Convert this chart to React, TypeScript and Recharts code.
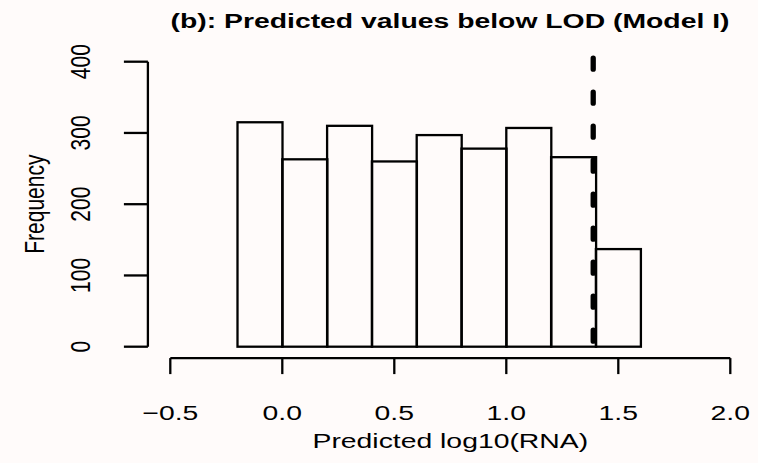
import React from 'react';
import { ComposedChart, Bar, XAxis, YAxis, ReferenceLine, Label } from 'recharts';

// histogram bins (left edges) and their counts
const binStarts = [-0.2, 0.0, 0.2, 0.4, 0.6, 0.8, 1.0, 1.2, 1.4];
const binWidth = 0.2;
const counts = [315, 263, 310, 260, 297, 278, 307, 266, 137];
const xTicks = [-0.5, 0.0, 0.5, 1.0, 1.5, 2.0];
const yTicks = [0, 100, 200, 300, 400];
const lod = 1.388;
const lodTop = 405;

const data = binStarts.map((s, i) => ({ mid: s + binWidth / 2, count: counts[i] }));

const FONT = '"Liberation Sans", Arial, Helvetica, sans-serif';
const STRETCH = 1.35;
const FS = 21;

const fmt = (v: number) => v.toFixed(1).replace('-', '\u2212');

const XTick = (props: any) => {
  const { x, payload } = props;
  return (
    <text
      transform={`translate(${x},412) scale(${STRETCH},1)`}
      textAnchor="middle"
      dominantBaseline="central"
      fontSize={FS}
      fontFamily={FONT}
      fill="#000"
    >
      {fmt(payload.value)}
    </text>
  );
};

const YTick = (props: any) => {
  const { y, payload } = props;
  return (
    <text
      transform={`translate(80,${y}) scale(${STRETCH},1) rotate(-90)`}
      textAnchor="middle"
      dominantBaseline="central"
      fontSize={FS}
      fontFamily={FONT}
      fill="#000"
    >
      {payload.value}
    </text>
  );
};

const HistBar = (props: any) => {
  const { x, y, width, height } = props;
  return <rect x={x} y={y} width={width} height={height} fill="none" stroke="#000" strokeWidth={2.3} />;
};

export default function App() {
  return (
    <div style={{ position: 'absolute', left: 0, top: 0, width: 758, height: 463, background: '#fffbfa' }}>
      <ComposedChart
        width={758}
        height={463}
        data={data}
        barCategoryGap={0}
        barGap={0}
        margin={{ top: 50.3, right: 5.3, left: 47.9, bottom: 44.9 }}
      >
        <XAxis
          dataKey="mid"
          type="number"
          domain={[-0.6, 2.1]}
          allowDataOverflow
          ticks={xTicks}
          interval={0}
          height={60}
          axisLine={false}
          tickSize={16}
          tickLine={{ stroke: '#000', strokeWidth: 2.3 }}
          tick={<XTick />}
        >
          <Label
            content={(p: any) => (
              <text
                transform={`translate(${p.viewBox.x + p.viewBox.width / 2},440) scale(${STRETCH},1)`}
                textAnchor="middle"
                dominantBaseline="central"
                fontSize={FS}
                fontFamily={FONT}
                fill="#000"
              >
                Predicted log10(RNA)
              </text>
            )}
          />
        </XAxis>
        <YAxis
          type="number"
          domain={[-16, 416]}
          allowDataOverflow
          ticks={yTicks}
          interval={0}
          width={100}
          axisLine={false}
          tickSize={24}
          tickLine={{ stroke: '#000', strokeWidth: 2.3 }}
          tick={<YTick />}
        >
          <Label
            content={(p: any) => (
              <text
                transform={`translate(34,${p.viewBox.y + p.viewBox.height / 2}) scale(${STRETCH},1) rotate(-90)`}
                textAnchor="middle"
                dominantBaseline="central"
                fontSize={FS}
                fontFamily={FONT}
                fill="#000"
              >
                Frequency
              </text>
            )}
          />
        </YAxis>
        <Bar dataKey="count" shape={<HistBar />} isAnimationActive={false} />
        <ReferenceLine
          segment={[{ x: -0.5, y: -16 }, { x: 2.0, y: -16 }]}
          stroke="#000"
          strokeWidth={2.3}
          ifOverflow="visible"
        />
        <ReferenceLine
          segment={[{ x: -0.6, y: 0 }, { x: -0.6, y: 400 }]}
          stroke="#000"
          strokeWidth={2.3}
          ifOverflow="visible"
        />
        <ReferenceLine
          segment={[{ x: lod, y: lodTop }, { x: lod, y: 0 }]}
          stroke="#000"
          strokeWidth={5.3}
          strokeDasharray="11 23"
          strokeLinecap="round"
          ifOverflow="visible"
        />
      </ComposedChart>
      <svg width={758} height={40} style={{ position: 'absolute', left: 0, top: 0 }}>
        <text
          transform={`translate(450,20) scale(${STRETCH},1)`}
          textAnchor="middle"
          dominantBaseline="central"
          fontSize={FS}
          fontWeight="bold"
          fontFamily={FONT}
          fill="#000"
        >
          (b): Predicted values below LOD (Model I)
        </text>
      </svg>
    </div>
  );
}
